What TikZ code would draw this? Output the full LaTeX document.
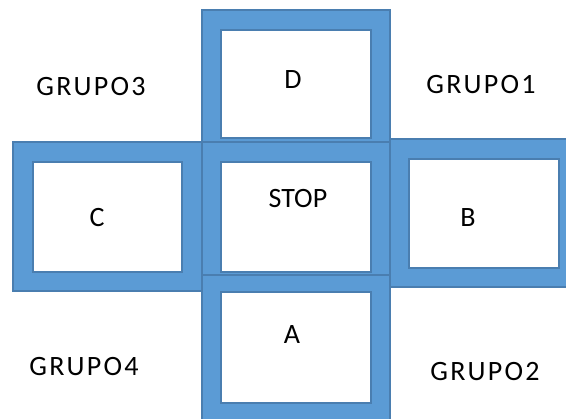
\documentclass[tikz,border=0pt]{standalone}
\usepackage{fontspec}
\setmainfont{Carlito}
\newfontfamily\grpfont[LetterSpace=8]{Carlito}
\definecolor{boxblue}{HTML}{5B9BD5}
\definecolor{boxline}{HTML}{4A7EB0}
\tikzset{
  outerbox/.style={fill=boxblue, draw=boxline, line width=1.5pt},
  innerbox/.style={fill=white, draw=boxline, line width=1.2pt},
  lbl/.style={font=\fontsize{28}{30}\selectfont, text=black, inner sep=0pt},
  grp/.style={font=\grpfont\fontsize{28}{30}\selectfont, text=black, inner sep=0pt}
}
\begin{document}
\begin{tikzpicture}[x=1pt,y=-1pt]
\useasboundingbox (0,0) rectangle (566,419);
\clip (0,0) rectangle (566,419);
% D
\filldraw[outerbox] (202,10) rectangle (390,157);
\filldraw[innerbox] (221,30) rectangle (371,138);
% C
\filldraw[outerbox] (13,142) rectangle (202,291);
\filldraw[innerbox] (33,162) rectangle (182,272);
% B
\filldraw[outerbox] (390,139) rectangle (580,287);
\filldraw[innerbox] (409,159) rectangle (559,268);
% STOP
\filldraw[outerbox] (202,142) rectangle (390,292);
\filldraw[innerbox] (221,162) rectangle (371,272);
% A
\filldraw[outerbox] (202,275) rectangle (390,425);
\filldraw[innerbox] (221,292) rectangle (371,403);
% labels
\node[lbl] (d) at (293,80) {D};
\node[lbl] (stop) at (298,199) {STOP};
\node[lbl] (c) at (97,218) {C};
\node[lbl] (b) at (468,218) {B};
\node[lbl] (a) at (292,335) {A};
\node[grp] (g3) at (91,87) {GRUPO3};
\node[grp] (g1) at (481,85) {GRUPO1};
\node[grp] (g4) at (84,367) {GRUPO4};
\node[grp] (g2) at (485,372) {GRUPO2};
\end{tikzpicture}
\end{document}
